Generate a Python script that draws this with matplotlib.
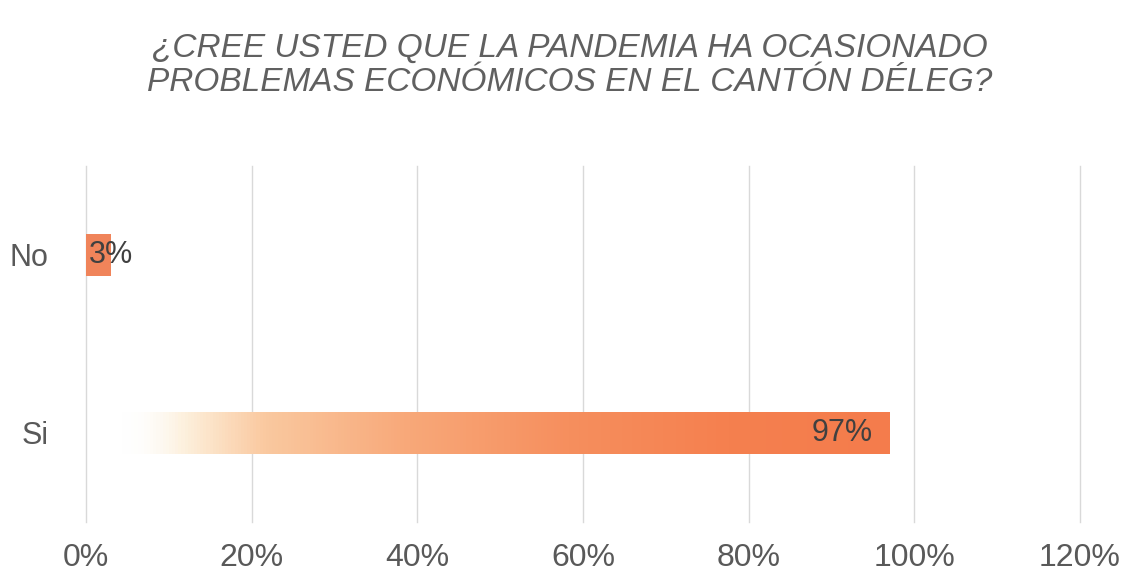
import numpy as np
import matplotlib.pyplot as plt
from matplotlib.colors import LinearSegmentedColormap

plt.rcParams['font.family'] = ['Liberation Sans', 'DejaVu Sans']

# Data
categories = ["No", "Si"]
values = [3, 97]
labels = ["3%", "97%"]
xticks = [0, 20, 40, 60, 80, 100, 120]
title = "¿CREE USTED QUE LA PANDEMIA HA OCASIONADO\nPROBLEMAS ECONÓMICOS EN EL CANTÓN DÉLEG?"

orange = '#F47C4C'
gray = '#595959'

fig = plt.figure(figsize=(11.28, 5.78), dpi=100)
ax = fig.add_axes([0.0762, 0.097, 0.8812, 0.616])

ypos = np.arange(len(categories))
bar_h = 0.24

# "No" bar is flat, "Si" bar has a faded gradient from the scan
ax.barh(ypos[0], values[0], height=bar_h, color='#F0845A', zorder=2)
bar_si = ax.barh(ypos[1], values[1], height=bar_h, color='none', zorder=2)[0]

grad = LinearSegmentedColormap.from_list('fade', [
    (0.00, (1, 1, 1, 0)), (0.04, (1, 1, 1, 0)), (0.12, '#FDF0DC'),
    (0.22, '#FAC9A0'), (0.40, '#F8A879'), (0.60, '#F68F5E'),
    (0.80, '#F5804F'), (1.00, orange)])
img = ax.imshow(np.linspace(0, 1, 256).reshape(1, -1), cmap=grad, aspect='auto',
                extent=[0, values[1], ypos[1] + bar_h / 2, ypos[1] - bar_h / 2],
                zorder=2, interpolation='bilinear')
img.set_clip_path(bar_si)

# value labels
ax.text(0.3, ypos[0], labels[0], ha='left', va='center', fontsize=22,
        color='#404040', zorder=3)
ax.text(values[1] - 2, ypos[1], labels[1], ha='right', va='center', fontsize=22,
        color='#404040', zorder=3)

ax.set_xlim(0, 120)
ax.set_ylim(1.5, -0.5)
ax.set_xticks(xticks)
ax.set_xticklabels([f"{t}%" for t in xticks], fontsize=23, color=gray)
ax.set_yticks(ypos)
ax.set_yticklabels(categories, fontsize=22, color=gray)
ax.tick_params(axis='x', length=0, pad=15)
ax.tick_params(axis='y', length=0, pad=27)
ax.grid(axis='x', color='#D9D9D9', linewidth=1, zorder=0)
for gl in ax.get_xgridlines():
    gl.set_clip_on(False)
ax.set_axisbelow(True)
for s in ax.spines.values():
    s.set_visible(False)

fig.text(0.505, 0.887, title, ha='center', va='center', fontsize=24,
         style='italic', color='#606060', linespacing=1.12)

plt.savefig('out.png', dpi=100)
